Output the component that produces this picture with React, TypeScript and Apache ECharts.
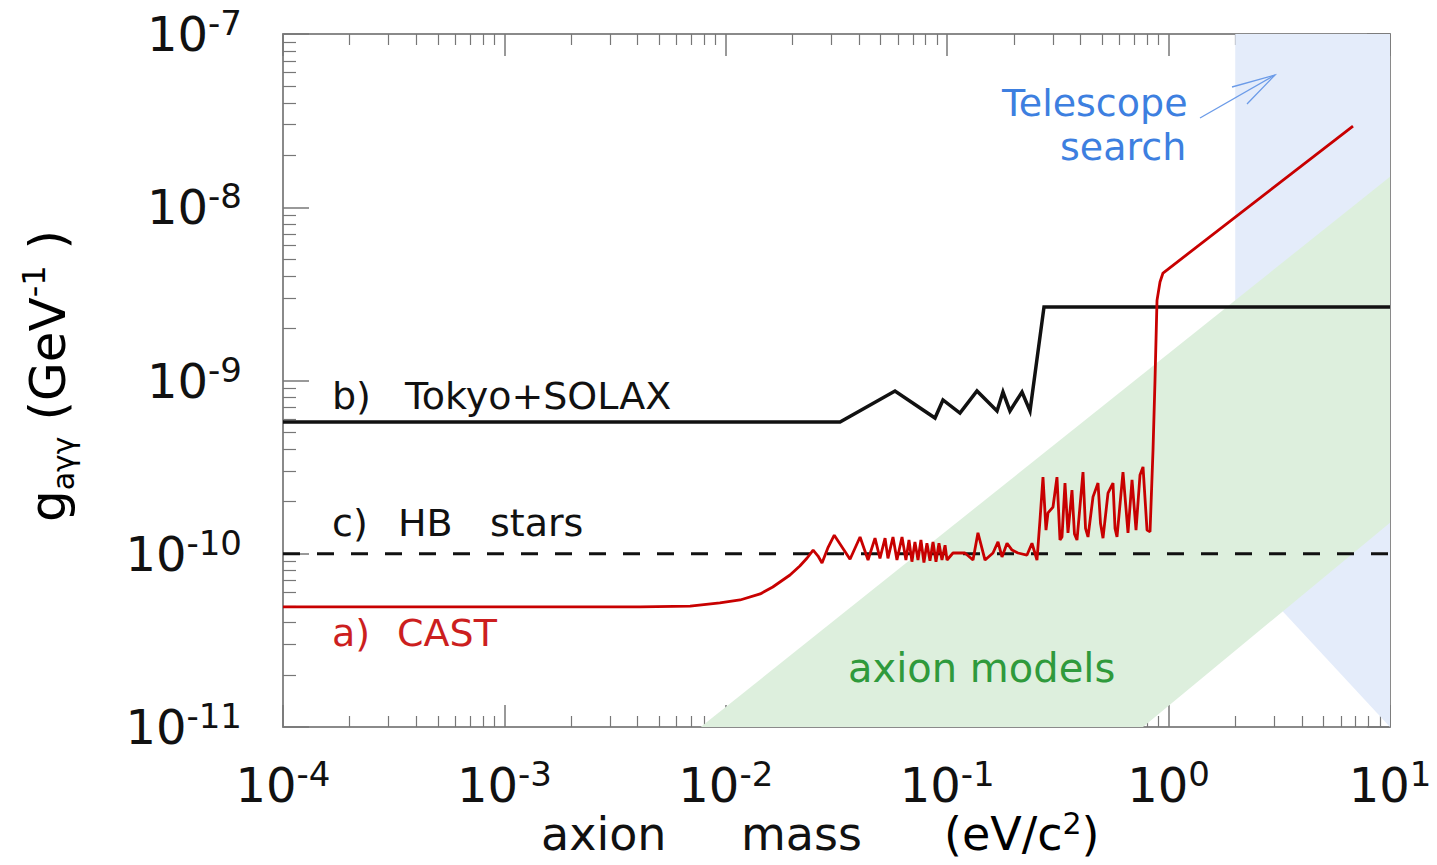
import React, { useEffect, useRef } from 'react';
import * as echarts from 'echarts';

const X_MIN = 1e-4;
const X_MAX = 10;
const Y_MIN = 1e-11;
const Y_MAX = 1e-7;

// a) CAST limit [mass eV, g GeV^-1]
const castData: [number, number][] = [
  [1e-4, 4.93e-11], [0.0041, 4.93e-11], [0.0069, 4.99e-11], [0.0094, 5.2e-11],
  [0.0116, 5.41e-11], [0.0143, 5.86e-11], [0.0163, 6.43e-11], [0.0195, 7.54e-11],
  [0.0216, 8.5e-11], [0.0233, 9.45e-11], [0.0248, 1.05e-10], [0.0261, 9.7e-11],
  [0.0272, 8.84e-11], [0.0289, 1.08e-10], [0.0309, 1.28e-10], [0.0364, 9.3e-11],
  [0.0404, 1.25e-10], [0.0439, 9.2e-11], [0.0472, 1.23e-10], [0.0497, 9.4e-11],
  [0.0524, 1.23e-10], [0.054, 9.4e-11], [0.0569, 1.25e-10], [0.0593, 9.2e-11],
  [0.0625, 1.25e-10], [0.0651, 9.2e-11], [0.0672, 1.2e-10], [0.0693, 9.0e-11],
  [0.0715, 1.17e-10], [0.0738, 9.2e-11], [0.0761, 1.2e-10], [0.0785, 8.9e-11],
  [0.081, 1.15e-10], [0.0836, 9.1e-11], [0.0863, 1.17e-10], [0.089, 9.0e-11],
  [0.0918, 1.15e-10], [0.0947, 9.2e-11], [0.0978, 1.12e-10], [0.0998, 9.2e-11],
  [0.1062, 1.01e-10], [0.1203, 1.01e-10], [0.1308, 9.2e-11], [0.1377, 1.32e-10],
  [0.1482, 9.2e-11], [0.161, 1.01e-10], [0.1696, 1.17e-10], [0.1768, 9.58e-11],
  [0.1863, 1.15e-10], [0.1963, 1.05e-10], [0.2088, 1.01e-10], [0.2293, 9.83e-11],
  [0.2415, 1.15e-10], [0.2544, 9.2e-11], [0.2625, 1.57e-10], [0.2708, 2.77e-10],
  [0.2794, 1.37e-10], [0.2853, 1.72e-10], [0.3005, 1.86e-10], [0.3132, 2.77e-10],
  [0.3232, 1.2e-10], [0.33, 1.25e-10], [0.3404, 2.56e-10], [0.3512, 1.32e-10],
  [0.3661, 2.33e-10], [0.3757, 1.3e-10], [0.3857, 1.2e-10], [0.4106, 2.96e-10],
  [0.4215, 1.4e-10], [0.4325, 1.25e-10], [0.4556, 2.13e-10], [0.4799, 2.56e-10],
  [0.4925, 1.5e-10], [0.5055, 1.23e-10], [0.5325, 2.24e-10], [0.5609, 2.56e-10],
  [0.5728, 1.4e-10], [0.5847, 1.25e-10], [0.6223, 2.96e-10], [0.6556, 1.32e-10],
  [0.6836, 2.67e-10], [0.7126, 1.37e-10], [0.7428, 2.85e-10], [0.7664, 3.17e-10],
  [0.799, 1.37e-10], [0.8244, 1.34e-10], [0.8504, 3.97e-10], [0.8681, 1.0e-9],
  [0.8864, 2.9e-9], [0.9145, 3.7e-9], [0.9434, 4.17e-9], [6.806, 2.94e-8],
];

// b) Tokyo + SOLAX
const tokyoData: [number, number][] = [
  [1e-4, 5.76e-10], [0.0328, 5.76e-10], [0.0581, 8.7e-10], [0.0881, 6.07e-10],
  [0.0957, 7.72e-10], [0.1142, 6.49e-10], [0.1363, 8.7e-10], [0.1679, 6.67e-10],
  [0.1786, 8.58e-10], [0.1921, 6.67e-10], [0.2177, 8.58e-10], [0.2366, 6.67e-10],
  [0.2737, 2.66e-9], [10, 2.66e-9],
];

// c) HB stars
const hbData: [number, number][] = [[1e-4, 1e-10], [10, 1e-10]];

// axion models band
const axionBand: [number, number][] = [[0.0077, 1e-11], [10, 1.5e-8], [10, 1.51e-10], [0.766, 1e-11]];

// telescope search region
const telescopeRegion: [number, number][] = [[2, 1e-7], [10, 1e-7], [10, 1e-11], [3.25, 4.7e-11], [2, 1e-10]];

const FONT = '"DejaVu Sans", Verdana, sans-serif';

const tickRich = {
  b: { fontSize: 48, fontFamily: FONT, color: '#111', lineHeight: 56 },
  s: { fontSize: 34, fontFamily: FONT, color: '#111', lineHeight: 38, verticalAlign: 'top' },
};
const tickFmt = (v: number) => `{b|10}{s|${Math.round(Math.log10(v))}}`;

const polyRender = (poly: [number, number][], fill: string) => (params: any, api: any) => ({
  type: 'polygon',
  shape: { points: poly.map((p) => api.coord(p)) },
  style: { fill },
});

const axisLine = { show: true, onZero: false, lineStyle: { color: '#8a8a8a', width: 2 } };

function makeX(pos: 'bottom' | 'top', showLabel: boolean) {
  return {
    type: 'log', logBase: 10, min: X_MIN, max: X_MAX, position: pos,
    axisLine,
    axisTick: { show: true, inside: true, length: 22, lineStyle: { color: '#777', width: 1.5 } },
    minorTick: { show: true, splitNumber: 9, length: 11, lineStyle: { color: '#777', width: 1.2 } },
    axisLabel: { show: showLabel, formatter: tickFmt, rich: tickRich, margin: 30 },
    splitLine: { show: false }, minorSplitLine: { show: false },
  };
}
function makeY(pos: 'left' | 'right', showLabel: boolean, major: number, minor: number) {
  return {
    type: 'log', logBase: 10, min: Y_MIN, max: Y_MAX, position: pos,
    axisLine,
    axisTick: { show: true, inside: true, length: major, lineStyle: { color: '#777', width: 1.5 } },
    minorTick: { show: true, splitNumber: 9, length: minor, lineStyle: { color: '#777', width: 1.2 } },
    axisLabel: { show: showLabel, formatter: tickFmt, rich: tickRich, margin: 41 },
    splitLine: { show: false }, minorSplitLine: { show: false },
  };
}

const txt = (text: string, x: number, y: number, fill: string, size = 38, extra: any = {}) => ({
  type: 'text', x, y, silent: true, z: 100,
  style: { text, fill, fontSize: size, fontFamily: FONT, align: 'left', verticalAlign: 'middle', ...extra },
});

export default function App() {
  const ref = useRef<HTMLDivElement>(null);
  useEffect(() => {
    if (!ref.current) return;
    const chart = echarts.init(ref.current, undefined, { renderer: 'svg' });
    const option: any = {
      animation: false,
      backgroundColor: '#fff',
      grid: { left: 283, right: 47, top: 34, bottom: 138, containLabel: false },
      xAxis: [makeX('bottom', true), makeX('top', false)],
      yAxis: [makeY('left', true, 26, 13), makeY('right', false, 23, 10)],
      series: [
        { type: 'custom', name: 'Telescope search', renderItem: polyRender(telescopeRegion, '#e4ecfa'), data: [telescopeRegion[0]], encode: { x: 0, y: 1 }, z: 1, silent: true },
        { type: 'custom', name: 'axion models', renderItem: polyRender(axionBand, '#ddefdd'), data: [axionBand[0]], encode: { x: 0, y: 1 }, z: 2, silent: true },
        { type: 'line', name: 'HB stars', data: hbData, symbol: 'none', lineStyle: { color: '#111', width: 3, type: [17, 17] }, z: 3, silent: true },
        { type: 'line', name: 'Tokyo+SOLAX', data: tokyoData, symbol: 'none', lineStyle: { color: '#111', width: 3.5, join: 'miter' }, z: 4, silent: true },
        { type: 'line', name: 'CAST', data: castData, symbol: 'none', lineStyle: { color: '#c80000', width: 2.8 }, z: 5, silent: true },
      ],
      graphic: [
        txt('b)', 332, 396, '#111'),
        txt('Tokyo+SOLAX', 405, 396, '#111'),
        txt('c)', 332, 523, '#111'),
        txt('HB', 398, 523, '#111'),
        txt('stars', 490, 523, '#111'),
        txt('a)', 332, 633, '#cc1f1f'),
        txt('CAST', 397, 633, '#cc1f1f'),
        txt('axion models', 848, 668, '#2f9a3c', 40),
        txt('Telescope', 1002, 103, '#3d7fe0'),
        txt('search', 1060, 147, '#3d7fe0'),
        { type: 'polyline', silent: true, z: 100, shape: { points: [[1200, 118], [1275, 75]] }, style: { stroke: '#6b9be8', lineWidth: 1.3, fill: null } },
        { type: 'polyline', silent: true, z: 100, shape: { points: [[1232, 87], [1275, 75], [1247, 104]] }, style: { stroke: '#6b9be8', lineWidth: 1.3, fill: null } },
        txt('axion', 541, 834, '#111', 46),
        txt('mass', 741, 834, '#111', 46),
        {
          type: 'text', x: 944, y: 834, silent: true, z: 100,
          style: {
            text: '{m|(eV/c}{p|2}{m|)}', align: 'left', verticalAlign: 'middle',
            rich: {
              m: { fontSize: 46, fontFamily: FONT, color: '#111', lineHeight: 52 },
              p: { fontSize: 30, fontFamily: FONT, color: '#111', lineHeight: 32, verticalAlign: 'top' },
            },
          },
        },
        {
          type: 'text', x: 48, y: 376, rotation: Math.PI / 2, silent: true, z: 100,
          style: {
            text: '{m|g}{s|aγγ}{m| (GeV}{p|-1}{m| )}', align: 'center', verticalAlign: 'middle',
            rich: {
              m: { fontSize: 50, fontFamily: FONT, color: '#111', lineHeight: 60 },
              s: { fontSize: 30, fontFamily: FONT, color: '#111', lineHeight: 34, verticalAlign: 'bottom' },
              p: { fontSize: 32, fontFamily: FONT, color: '#111', lineHeight: 36, verticalAlign: 'top' },
            },
          },
        },
      ],
    };
    chart.setOption(option);
    return () => chart.dispose();
  }, []);
  return <div ref={ref} style={{ position: 'fixed', left: 0, top: 0, width: 1437, height: 865, background: '#fff' }} />;
}
